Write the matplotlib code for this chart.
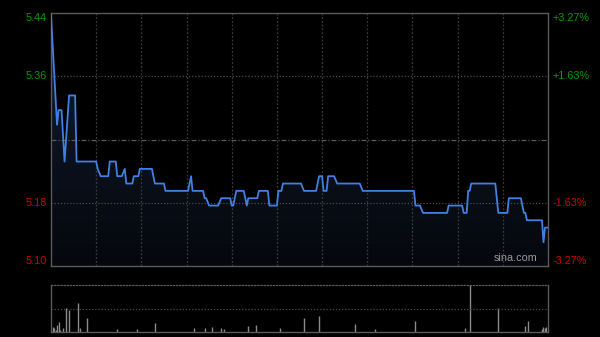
import numpy as np
import matplotlib
matplotlib.use("Agg")
import matplotlib.pyplot as plt
from matplotlib.colors import LinearSegmentedColormap
from matplotlib.patches import Polygon
import matplotlib.transforms as mtransforms

# intraday price (minutes after open, 330 trading minutes)
price_min = [0, 4, 5, 7, 9, 12, 16, 17, 30, 31, 33, 38, 39, 43, 44, 47, 49, 50, 54, 55,
             58, 59, 67, 69, 75, 76, 91, 93, 94, 101, 102, 103, 105, 111, 113, 119, 120,
             121, 123, 128, 130, 131, 137, 138, 144, 145, 150, 151, 153, 154, 166, 168,
             176, 178, 180, 181, 183, 184, 188, 190, 205, 207, 241, 242, 245, 247, 263,
             264, 273, 274, 276, 277, 278, 279, 295, 297, 303, 304, 312, 314, 315, 316,
             326, 327, 328, 330]
price = [5.44, 5.29, 5.31, 5.31, 5.24, 5.33, 5.33, 5.24, 5.24, 5.23, 5.22, 5.22, 5.24,
         5.24, 5.22, 5.22, 5.23, 5.21, 5.21, 5.22, 5.22, 5.23, 5.23, 5.21, 5.21, 5.20,
         5.20, 5.22, 5.20, 5.20, 5.19, 5.19, 5.18, 5.18, 5.19, 5.19, 5.18, 5.18, 5.20,
         5.20, 5.18, 5.19, 5.19, 5.20, 5.20, 5.18, 5.18, 5.20, 5.20, 5.21, 5.21, 5.20,
         5.20, 5.22, 5.22, 5.20, 5.20, 5.22, 5.22, 5.21, 5.21, 5.20, 5.20, 5.18, 5.18,
         5.17, 5.17, 5.18, 5.18, 5.17, 5.17, 5.20, 5.20, 5.21, 5.21, 5.17, 5.17, 5.19,
         5.19, 5.17, 5.17, 5.16, 5.16, 5.13, 5.15, 5.15]

# volume bars (minute, volume)
vol_min = [1, 2, 3, 4, 5, 6, 8, 10, 12, 18, 19, 24, 44, 57, 69, 95, 102, 107, 113, 115,
           131, 136, 152, 168, 178, 202, 215, 242, 275, 278, 297, 315, 317, 326, 327,
           328, 329]
vol = [50, 40, 20, 70, 100, 20, 45, 240, 220, 290, 40, 140, 30, 30, 93, 43, 40, 53, 45,
       27, 63, 70, 37, 137, 160, 83, 27, 113, 43, 470, 240, 60, 107, 27, 53, 43, 50]

prev_close = 5.27
pct = 0.0327
left_labels = ["5.44", "5.36", "5.18", "5.10"]
right_labels = ["+3.27%", "+1.63%", "-1.63%", "-3.27%"]

green = "#0a9a0a"
red = "#d00000"
line_c = "#3f80e0"
grid_c = "#3a3a3a"
spine_c = "#5a5a5a"

plt.rcParams["font.family"] = ["Liberation Sans", "DejaVu Sans"]

fig = plt.figure(figsize=(6.0, 3.37), dpi=100, facecolor="black")
ax = fig.add_axes([51 / 600, 71 / 337, 497 / 600, 253 / 337], facecolor="black")
axv = fig.add_axes([51 / 600, 5 / 337, 497 / 600, 47 / 337], facecolor="black")

ymin = prev_close * (1 - pct)
ymax = prev_close * (1 + pct)
hi = prev_close * (1 + pct / 2)
lo = prev_close * (1 - pct / 2)

ax.set_xlim(0, 330)
ax.set_ylim(ymin, ymax)

# grid (drawn over the fill, under the line)
for m in range(30, 330, 30):
    ax.axvline(m, color=grid_c, lw=0.9, ls=(0, (1.5, 1.5)), zorder=2)
for v in (hi, lo):
    ax.axhline(v, color="#4a4a4a", lw=0.9, ls=(0, (1, 1.5)), zorder=2)
ax.axhline(prev_close, color="#5a5a5a", lw=0.9, ls=(0, (4, 1.5, 1, 1.5)), zorder=2)

# gradient fill under price line
xs = np.array(price_min, dtype=float)
ys = np.array(price)
verts = np.column_stack([np.r_[xs, xs[-1], xs[0]], np.r_[ys, ymin, ymin]])
poly = Polygon(verts, closed=True, facecolor="none", edgecolor="none")
ax.add_patch(poly)
cmap = LinearSegmentedColormap.from_list("fill", ["#05070c", "#121e33"])
grad = np.linspace(0, 1, 256).reshape(-1, 1)
im = ax.imshow(grad, extent=[0, 330, ymin, max(price)], origin="lower", aspect="auto",
               cmap=cmap, zorder=1)
im.set_clip_path(poly)

ax.plot(price_min, price, color=line_c, lw=1.3, zorder=3)

for s in ax.spines.values():
    s.set_color(spine_c)
    s.set_linewidth(1.0)
ax.set_xticks([])
ax.set_yticks([])

trans_l = mtransforms.blended_transform_factory(ax.transAxes, ax.transData)
lab_y = [ymax, hi, lo, ymin]
lab_va = ["top", "center", "center", "bottom"]
lab_c = [green, green, red, red]
for lab, y, va, c in zip(left_labels, lab_y, lab_va, lab_c):
    ax.text(-0.008, y, lab, transform=trans_l, ha="right", va=va, color=c, fontsize=7.8)
for lab, y, va, c in zip(right_labels, lab_y, lab_va, lab_c):
    ax.text(1.010, y, lab, transform=trans_l, ha="left", va=va, color=c, fontsize=7.8)

ax.text(0.978, 0.012, "sina.com", transform=ax.transAxes, ha="right", va="bottom",
        color="#9a9a9a", fontsize=7.8, zorder=4)

# volume panel
axv.set_xlim(0, 330)
axv.set_ylim(0, max(vol))
axv.vlines(vol_min, 0, vol, color="#8a8a8a", lw=1.0)
axv.axhline(max(vol) / 2, color="#4a4a4a", lw=0.9, ls=(0, (1, 1.5)))
axv.set_xticks([])
axv.set_yticks([])
for k in ("left", "right", "bottom"):
    axv.spines[k].set_color(spine_c)
    axv.spines[k].set_linewidth(1.0)
axv.spines["top"].set_color("#5a5a5a")
axv.spines["top"].set_linestyle((0, (1, 1.5)))
axv.spines["top"].set_linewidth(0.9)

fig.savefig("out.png", dpi=100, facecolor="black")
